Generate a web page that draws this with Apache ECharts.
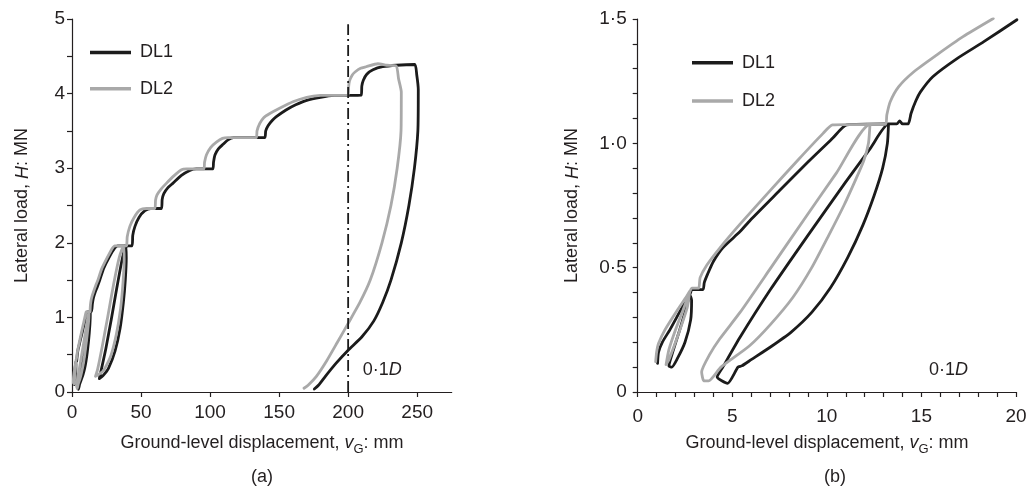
<!DOCTYPE html>
<html><head><meta charset="utf-8">
<script src="https://cdn.jsdelivr.net/npm/echarts@6/dist/echarts.min.js"></script>
<style>html,body{margin:0;padding:0;background:#fff}#c{width:1030px;height:488px}</style>
</head><body><div id="c"></div>
<script>
// ---- data (displacement mm, lateral load MN) ----
const dl1Early = [
  [1.05,0.115],[1.1,0.16],[1.3,0.2],[1.7,0.25],[2.06,0.3],[2.45,0.355],[2.72,0.395],
  [2.85,0.37],[2.8,0.29],[2.5,0.2],[2.1,0.135],[1.8,0.1],[1.65,0.105],
  [1.85,0.16],[2.2,0.245],[2.5,0.32],[2.75,0.39],[2.9,0.412],
  [3.45,0.412],
  [3.52,0.44],[3.7,0.475],[4.0,0.525],[4.5,0.58],[5.41,0.645],[5.94,0.69],[7.5,0.81],[9.0,0.925],[10.3,1.02],[11.05,1.074],
  [13.26,1.078],
  [13.2,1.0],[12.95,0.9],[12.5,0.79],[11.9,0.67],[11.1,0.54],[10.2,0.42],[9.2,0.32],[8.1,0.24],[7.0,0.18],[6.0,0.13],[5.5,0.105],[5.3,0.1],[4.75,0.035],[4.2,0.06],
  [4.5,0.1],[5.41,0.22],[7.0,0.41],[9.0,0.63],[11.0,0.845],[12.3,0.98],[13.26,1.078],
  [13.7,1.078],[13.85,1.09],[14.0,1.078],[14.3,1.078],
  [14.45,1.12],[14.7,1.17],[14.95,1.207],[15.6,1.268],[16.9,1.342],[18.3,1.409],[20.05,1.497]
];
const dl2Early = [
  [0.95,0.122],[1.0,0.16],[1.1,0.195],[1.44,0.25],[2.06,0.325],[2.59,0.385],[2.75,0.405],
  [2.62,0.34],[2.3,0.265],[1.95,0.19],[1.65,0.13],[1.5,0.11],
  [1.65,0.17],[2.0,0.25],[2.4,0.33],[2.7,0.39],[2.86,0.418],
  [3.22,0.418],
  [3.3,0.46],[3.65,0.51],[4.35,0.58],[5.41,0.675],[7.0,0.81],[8.5,0.935],[9.8,1.04],[10.3,1.074],
  [12.28,1.076],
  [12.2,1.0],[11.95,0.93],[11.5,0.85],[10.9,0.75],[10.1,0.63],[9.2,0.5],[8.2,0.38],[7.0,0.27],[5.9,0.185],[4.4,0.1],[3.75,0.045],[3.5,0.045],[3.38,0.08],
  [3.8,0.15],[4.35,0.215],[5.41,0.32],[7.0,0.495],[8.76,0.69],[10.5,0.88],[12.28,1.076],
  [13.1,1.076],
  [13.17,1.114],[13.35,1.167],[13.8,1.228],[14.6,1.288],[15.8,1.355],[17.2,1.429],[18.8,1.502]
];
const dl1Late = [
  [23,1.66],[27,1.81],[31,1.93],[33,1.96],[39,1.96],
  [39.3,1.8],[38.6,1.5],[37.2,1.2],[34.8,0.85],[31.2,0.55],[26.5,0.32],[22.5,0.22],[19.8,0.18],
  [21,0.28],[24.5,0.58],[28.5,0.98],[32.5,1.4],[36,1.75],[38.5,1.93],[40.5,1.96],
  [43.5,1.96],
  [44,2.1],[45.6,2.22],[48.5,2.34],[52.8,2.43],[57,2.46],
  [64.8,2.46],
  [65.3,2.58],[66.5,2.66],[69.5,2.74],[73.2,2.8],[79,2.9],[85.3,2.97],[90,2.99],
  [102,2.99],
  [102.5,3.08],[103.6,3.18],[106,3.26],[109.4,3.32],[113,3.38],[117,3.41],
  [139.5,3.41],
  [140.3,3.5],[142,3.57],[145,3.64],[148,3.69],[155,3.78],[162,3.85],[170,3.91],[180,3.95],[190,3.975],
  [209.5,3.98],
  [209.9,4.1],[211,4.18],[213.5,4.26],[218,4.32],[225,4.36],[235,4.38],[248.2,4.39],
  [249.7,4.25],[250.8,4.05],[250.5,3.5],[248,3.0],[244,2.5],[238.5,2.0],[231,1.5],[225,1.2],[218.5,0.95],[210,0.74],[200,0.56],[191,0.38],[183.5,0.21],[178.5,0.09],[175.5,0.04]
];
const dl2Late = [
  [21.5,1.65],[25.5,1.8],[29,1.92],[31,1.96],[37.5,1.96],
  [37.8,1.78],[37,1.48],[35.2,1.12],[32.2,0.78],[28,0.48],[22.5,0.28],[17,0.21],
  [18.5,0.3],[21.8,0.6],[25.8,1.0],[30.2,1.45],[34.2,1.8],[37.2,1.95],[39.5,1.96],
  [40,2.08],[41.9,2.22],[45,2.34],[49.2,2.44],[54,2.46],
  [60,2.46],
  [60.5,2.57],[61.5,2.64],[64.5,2.72],[68.5,2.8],[74,2.9],[79.3,2.98],[83,2.99],
  [95.5,2.99],
  [96,3.08],[97.4,3.18],[100.5,3.28],[104.6,3.35],[109,3.4],[113,3.41],
  [133.5,3.41],
  [134,3.5],[136,3.6],[139,3.68],[143,3.73],[150,3.8],[160,3.89],[170,3.95],[180,3.975],
  [200,3.98],
  [200.4,4.1],[201,4.17],[203,4.25],[205,4.29],[209,4.34],[213,4.36],[221.5,4.4],[228,4.38],[234.8,4.37],
  [236.5,4.2],[238.5,4.02],[238.3,3.5],[235.5,3.0],[231,2.5],[224.5,2.0],[216,1.5],[208.5,1.2],[200,0.92],[192,0.66],[184.5,0.42],[177,0.21],[171,0.09],[168,0.05]
];
const refLine = [[200,0],[200,4.93]];

const xTicksA = [0,50,100,150,200,250];
const yLabelsA = [0,1,2,3,4,5];
const yTicksA = [0,0.5,1,1.5,2,2.5,3,3.5,4,4.5,5];
const xLabelsB = [0,5,10,15,20];
const xTicksB = [0,1,2,3,4,5,6,7,8,9,10,11,12,13,14,15,16,17,18,19,20];
const yLabelsB = [0,0.5,1,1.5];
const yTicksB = [0,0.1,0.2,0.3,0.4,0.5,0.6,0.7,0.8,0.9,1,1.1,1.2,1.3,1.4,1.5];

// ---- styling ----
const FONT = '"Liberation Sans", Arial, Helvetica, sans-serif';
const INK = '#231f20';
const BLACK = '#1b1b1b';
const GREY = '#a9a9a9';
const FS = 18;
const TFS = 19;

function mkAxis(gridIndex, max, labels, ticks, margin, fmt) {
  return {
    type: 'value', gridIndex, min: 0, max,
    axisLine: { show: true, onZero: false, lineStyle: { color: INK, width: 1.2 } },
    axisTick: { show: true, customValues: ticks, length: 5, lineStyle: { color: INK, width: 1.2 } },
    axisLabel: { customValues: labels, margin, color: INK, fontSize: TFS, fontFamily: FONT, formatter: fmt },
    splitLine: { show: false }
  };
}
const dotFmt = v => (v === 0 ? '0' : v.toFixed(1).replace('.', '\u00b7'));
const intFmt = v => String(Math.round(v));

function curve(name, data, color, xi) {
  return {
    name, type: 'line', xAxisIndex: xi, yAxisIndex: xi, data,
    symbol: 'none', smooth: 0.2, clip: true,
    lineStyle: { color, width: 2.8, cap: 'round', join: 'round' },
    itemStyle: { color },
    emphasis: { disabled: true }, silent: true
  };
}

const rich = {
  i: { fontStyle: 'italic', fontSize: FS, fontFamily: FONT, fill: INK, lineHeight: 26 },
  s: { fontSize: 13, fontFamily: FONT, fill: INK, lineHeight: 13, verticalAlign: 'bottom' }
};
function txt(x, y, text, rot, align) {
  return {
    type: 'text', x, y, rotation: rot || 0, silent: true,
    style: { text, rich, fontSize: FS, fontFamily: FONT, fill: INK, lineHeight: 26,
             align: align || 'center', verticalAlign: 'middle' }
  };
}
function legend(left, top, gap) {
  return { data: ['DL1', 'DL2'], orient: 'vertical', left, top, padding: 0,
    icon: 'rect', itemWidth: 41, itemHeight: 3.4, itemGap: gap,
    textStyle: { fontSize: FS, fontFamily: FONT, color: INK, padding: [0, 0, 0, 4] }, selectedMode: false };
}

const option = {
  animation: false,
  backgroundColor: '#fff',
  grid: [
    { left: 72, top: 19, width: 379.7, height: 373 },
    { left: 637.7, top: 19, width: 378.3, height: 373 }
  ],
  xAxis: [
    mkAxis(0, 275, xTicksA, xTicksA, 11, intFmt),
    mkAxis(1, 20, xLabelsB, xTicksB, 15, intFmt)
  ],
  yAxis: [
    mkAxis(0, 5, yLabelsA, yTicksA, 7, intFmt),
    mkAxis(1, 1.5, yLabelsB, yTicksB, 11, dotFmt)
  ],
  legend: [ legend(90, 43.5, 18.2), legend(692, 53.7, 20.3) ],
  series: [
    curve('DL1', dl1Early.concat(dl1Late), BLACK, 0),
    curve('DL2', dl2Early.concat(dl2Late), GREY, 0),
    { name: 'ref', type: 'line', xAxisIndex: 0, yAxisIndex: 0, data: refLine, symbol: 'none', silent: true,
      lineStyle: { color: BLACK, width: 1.8, type: [11, 4, 2, 4] } },
    curve('DL1', dl1Early, BLACK, 1),
    curve('DL2', dl2Early, GREY, 1)
  ],
  graphic: [
    txt(22.5, 205.5, 'Lateral load, {i|H}: MN', Math.PI / 2),
    txt(572.5, 205.5, 'Lateral load, {i|H}: MN', Math.PI / 2),
    txt(262, 443, 'Ground-level displacement, {i|v}{s|G}: mm'),
    txt(827, 443, 'Ground-level displacement, {i|v}{s|G}: mm'),
    txt(262, 477, '(a)'),
    txt(835, 477, '(b)'),
    txt(362.7, 370, '0\u00b71{i|D}', 0, 'left'),
    txt(929, 370, '0\u00b71{i|D}', 0, 'left')
  ]
};
const chart = echarts.init(document.getElementById('c'), null, { renderer: 'canvas' });
chart.setOption(option);
</script>
</body></html>
